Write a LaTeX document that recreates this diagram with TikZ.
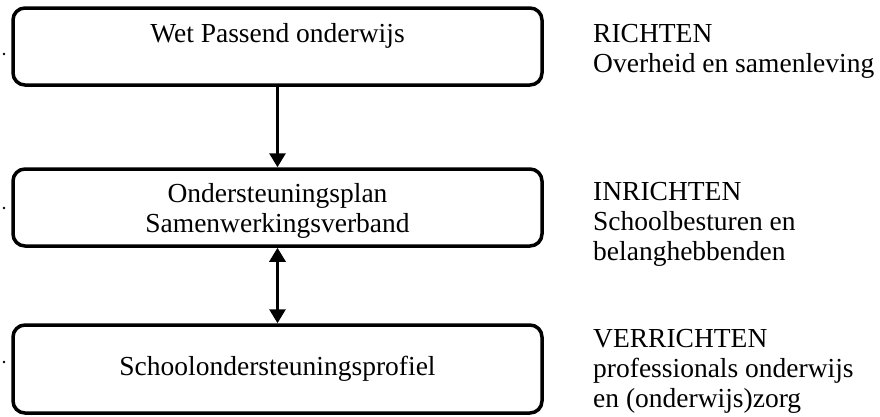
\documentclass[tikz,border=0pt]{standalone}
\usepackage{fontspec}
\setmainfont{Liberation Serif}
\usetikzlibrary{positioning,arrows.meta}

\begin{document}
\begin{tikzpicture}[x=1pt, y=-1pt,
  every node/.style={font=\fontsize{27.5}{30}\selectfont},
  box/.style={draw, rectangle, rounded corners=12pt, line width=3.5pt, minimum width=529pt, minimum height=77pt, align=center},
  side/.style={anchor=base west, inner sep=0pt, align=left},
  link/.style={line width=3pt, -{Triangle[width=16pt,length=14pt]}},
  twoway/.style={line width=3pt, {Triangle[width=16pt,length=14pt]}-{Triangle[width=16pt,length=14pt]}}]
  \useasboundingbox (0,0) rectangle (880,416);
  \node[box, text height=19pt, text depth=28pt] (wet) at (277.5,46.5) {Wet Passend onderwijs};
  \node[box, below=80.5pt of wet, text depth=0pt] (plan) {Ondersteuningsplan\\Samenwerkingsverband};
  \node[box, below=75.5pt of plan, minimum height=88pt] (profiel) {Schoolondersteuningsprofiel};
  \draw[link] (wet) -- (plan);
  \draw[twoway] (plan) -- (profiel);
  \node[side] (richten) at (593,72) {RICHTEN\\Overheid en samenleving};
  \node[side] (inrichten) at (593,260) {INRICHTEN\\Schoolbesturen en\\belanghebbenden};
  \node[side] (verrichten) at (593,407) {VERRICHTEN\\professionals onderwijs\\en (onderwijs)zorg};
  % losse puntjes links
  \foreach \y in {54,208,362}
    \fill (4,\y) circle (1.4pt);
\end{tikzpicture}
\end{document}
